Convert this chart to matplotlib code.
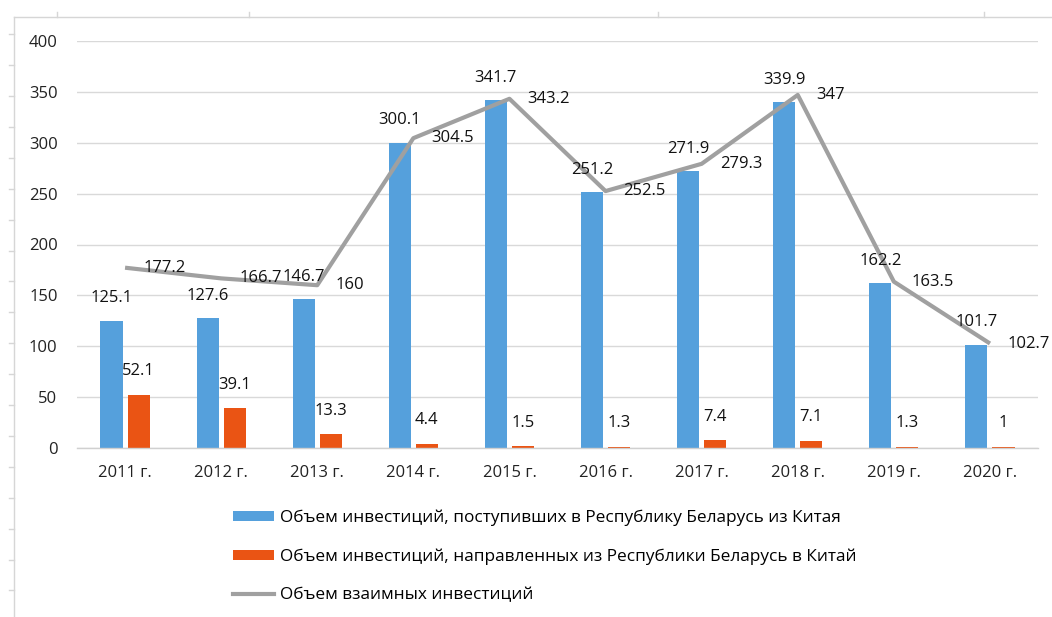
import matplotlib
matplotlib.use("Agg")
import matplotlib.pyplot as plt
from matplotlib.lines import Line2D
from matplotlib.patches import Patch
import numpy as np

plt.rcParams['font.family'] = ['Open Sans', 'DejaVu Sans']

years = ["2011 г.", "2012 г.", "2013 г.", "2014 г.", "2015 г.", "2016 г.",
         "2017 г.", "2018 г.", "2019 г.", "2020 г."]
inflow = [125.1, 127.6, 146.7, 300.1, 341.7, 251.2, 271.9, 339.9, 162.2, 101.7]
outflow = [52.1, 39.1, 13.3, 4.4, 1.5, 1.3, 7.4, 7.1, 1.3, 1]
mutual = [177.2, 166.7, 160, 304.5, 343.2, 252.5, 279.3, 347, 163.5, 102.7]
yticks = [0, 50, 100, 150, 200, 250, 300, 350, 400]

legend_labels = [
    "Объем инвестиций, поступивших в Республику Беларусь из Китая",
    "Объем инвестиций, направленных из Республики Беларусь в Китай",
    "Объем взаимных инвестиций",
]

BLUE = "#55A0DC"
ORANGE = "#EA5414"
GRAY = "#A0A0A0"
FS = 12

W, H = 1052, 617
fig = plt.figure(figsize=(W / 100, H / 100), dpi=100)
ax = fig.add_axes([77 / W, 1 - 448 / H, (1038 - 77) / W, (448 - 41) / H])

x = np.arange(len(years))
bw = 0.23
gap = 0.026
xb = x - gap - bw / 2
xo = x + gap + bw / 2
ax.bar(xb, inflow, width=bw, color=BLUE, zorder=2)
ax.bar(xo, outflow, width=bw, color=ORANGE, zorder=2)
ax.plot(x, mutual, color=GRAY, lw=3.0, zorder=3, solid_capstyle='butt')

for xi, v in zip(xb, inflow):
    ax.annotate(f"{v:g}", (xi, v), xytext=(0, 16), textcoords="offset points",
                ha="center", va="center", fontsize=FS, color="#111111")
for xi, v in zip(xo, outflow):
    ax.annotate(f"{v:g}", (xi, v), xytext=(0, 17), textcoords="offset points",
                ha="center", va="center", fontsize=FS, color="#111111")
for xi, v in zip(x, mutual):
    ax.annotate(f"{v:g}", (xi, v), xytext=(13, 0), textcoords="offset points",
                ha="left", va="center", fontsize=FS, color="#111111")

ax.set_xlim(-0.5, len(years) - 0.5)
ax.set_ylim(0, 400)
ax.set_yticks(yticks)
ax.set_xticks(x)
ax.set_xticklabels(years)
ax.grid(axis="y", color="#D9D9D9", lw=1.0, zorder=0)
ax.set_axisbelow(True)
for s in ["top", "right", "left"]:
    ax.spines[s].set_visible(False)
ax.spines["bottom"].set_color("#D0D0D0")
ax.spines["bottom"].set_linewidth(1.0)
ax.tick_params(axis="both", length=0, labelsize=FS, colors="#222222")
ax.tick_params(axis="x", pad=12)
ax.tick_params(axis="y", pad=14)

handles = [
    Patch(facecolor=BLUE, edgecolor="none"),
    Patch(facecolor=ORANGE, edgecolor="none"),
    Line2D([0], [0], color=GRAY, lw=3.0),
]
leg = fig.legend(handles, legend_labels, loc="upper left",
                 bbox_to_anchor=(217 / W, 1 - 494 / H), frameon=False,
                 fontsize=12.4, handlelength=2.4, handleheight=0.55,
                 labelspacing=1.3, handletextpad=0.35)

# page frame decoration
fc = "#D6D6D6"
fig.add_artist(Line2D([14 / W, 1.0], [1 - 17 / H, 1 - 17 / H], color=fc, lw=1.0,
                      transform=fig.transFigure))
fig.add_artist(Line2D([14 / W, 14 / W], [1 - 17 / H, 0], color=fc, lw=1.0,
                      transform=fig.transFigure))
for px in [57, 249, 658, 984]:
    fig.add_artist(Line2D([px / W, px / W], [1 - 12 / H, 1 - 17 / H], color=fc,
                          lw=1.0, transform=fig.transFigure))
for k in range(19):
    py = 34.3 + 30.9 * k
    fig.add_artist(Line2D([9 / W, 14 / W], [1 - py / H, 1 - py / H], color=fc,
                          lw=1.0, transform=fig.transFigure))

fig.savefig("out.png", dpi=100)
